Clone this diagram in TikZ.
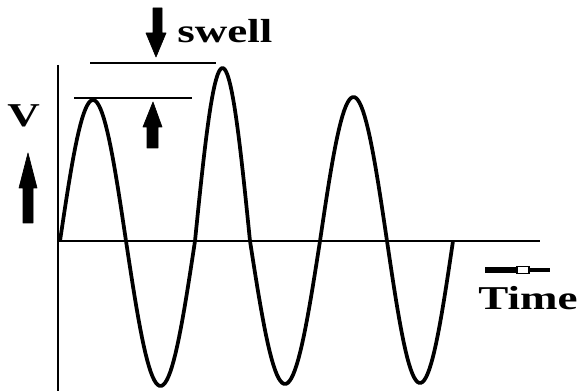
\documentclass[tikz,border=0pt]{standalone}
\usepackage{fontspec}
\setmainfont{Liberation Serif}
\begin{document}
\begin{tikzpicture}[x=0.75pt,y=-0.75pt,
  lbl/.style={font=\fontsize{25}{25}\selectfont\bfseries, inner sep=0pt, xscale=1.35},
  axis/.style={line width=2.2pt},
  wave/.style={line width=2.8pt, line join=round},
  level/.style={line width=2pt},
  blk/.style={fill=black, draw=black, line width=0.5pt, line join=round}]
\useasboundingbox (0,0) rectangle (578,391);
% axes
\coordinate (o) at (58,241);
\coordinate (ytop) at (58,65);
\coordinate (ybot) at (58,391);
\coordinate (xend) at (540,241);
\draw[axis] (ytop) -- (ybot);
\draw[axis] (o) -- (xend);
% wave
\draw[wave]
  plot[domain=0:1,samples=40] ({60+66*\x},{241-141*sin(180*\x)})
  -- plot[domain=0:1,samples=40] ({126+69*\x},{241+145*sin(180*\x)})
  -- plot[domain=0:1,samples=40] ({195+55*\x},{241-173*sin(180*\x)})
  -- plot[domain=0:1,samples=40] ({250+70*\x},{241+143*sin(180*\x)})
  -- plot[domain=0:1,samples=40] ({320+67*\x},{241-144*sin(180*\x)})
  -- plot[domain=0:1,samples=40] ({387+66*\x},{241+142*sin(180*\x)});
% swell levels
\coordinate (u1) at (90,63); \coordinate (u2) at (216,63);
\coordinate (l1) at (74,98); \coordinate (l2) at (192,98);
\draw[level] (u1) -- (u2);
\draw[level] (l1) -- (l2);
% down arrow
\fill[blk] (153,8) -- (162,8) -- (162,33) -- (166,33) -- (156,57) -- (146,33) -- (153,33) -- cycle;
% up arrow
\fill[blk] (147,148) -- (158,148) -- (158,127) -- (162,127) -- (153,102) -- (143,127) -- (147,127) -- cycle;
% left arrow
\fill[blk] (23,223) -- (33,223) -- (33,188) -- (37,188) -- (28,153) -- (19,188) -- (23,188) -- cycle;
% time arrow
\coordinate (t1) at (485,270); \coordinate (t2) at (518,270);
\coordinate (t3) at (528,270); \coordinate (t4) at (550,270);
\draw[line width=4.5pt] (t1) -- (t2);
\draw[line width=1.2pt, fill=white] (517,266.5) rectangle (529,273.5);
\draw[line width=2.5pt] (t3) -- (t4);
% labels
\node[lbl, anchor=base west] (swell) at (177,43) {swell};
\node[lbl, anchor=base west] (v) at (7,127) {V};
\node[lbl, anchor=base west] (time) at (478,310) {Time};
\end{tikzpicture}
\end{document}
